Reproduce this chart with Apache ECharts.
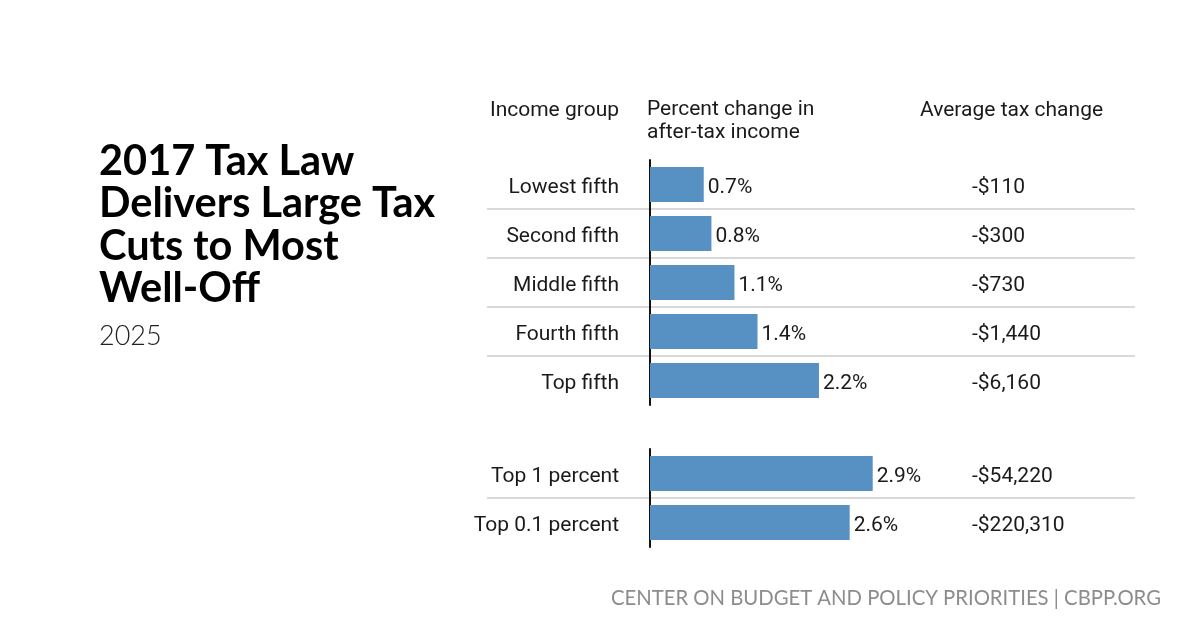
<!DOCTYPE html>
<html>
<head>
<meta charset="utf-8">
<script src="https://cdn.jsdelivr.net/npm/echarts@6/dist/echarts.min.js"></script>
<style>
html,body{margin:0;padding:0;background:#fff;}
#chart{width:1200px;height:630px;}
</style>
</head>
<body>
<div id="chart"></div>
<script>
// ---- Data ----
var groupsMain = ['Lowest fifth', 'Second fifth', 'Middle fifth', 'Fourth fifth', 'Top fifth'];
var pctMain = [0.7, 0.8, 1.1, 1.4, 2.2];
var taxMain = [-110, -300, -730, -1440, -6160];

var groupsTop = ['Top 1 percent', 'Top 0.1 percent'];
var pctTop = [2.9, 2.6];
var taxTop = [-54220, -220310];

var headers = ['Income group', 'Percent change in\nafter-tax income', 'Average tax change'];
var titleText = '2017 Tax Law\nDelivers Large Tax\nCuts to Most\nWell-Off';
var subtitleText = '2025';
var sourceText = 'CENTER ON BUDGET AND POLICY PRIORITIES | CBPP.ORG';

// ---- Styles ----
var BODY_FONT = 'Roboto, "Liberation Sans Narrow", sans-serif';
var TITLE_FONT = 'Lato, "Open Sans", sans-serif';
var BAR_COLOR = '#5790c2';
var TEXT_COLOR = '#1a1a1a';

function fmtTax(v) {
  var s = Math.abs(v).toString().replace(/\B(?=(\d{3})+(?!\d))/g, ',');
  return (v < 0 ? '-$' : '$') + s;
}

var X_MIN = -2.122, X_MAX = 6.315;
var richText = { t: { fontSize: 21, color: TEXT_COLOR, fontFamily: BODY_FONT, padding: [7, 0, 0, 0] } };

function catAxis(grid, cats) {
  return {
    type: 'category', gridIndex: grid, data: cats, inverse: true,
    axisLine: { show: true, onZero: true, lineStyle: { color: '#111', width: 2 } },
    axisTick: { show: false },
    axisLabel: { margin: -132, fontSize: 21, color: TEXT_COLOR, fontFamily: BODY_FONT,
      formatter: function (v) { return '{t|' + v + '}'; }, rich: richText },
    splitLine: { show: true, showMinLine: false, showMaxLine: false,
      lineStyle: { color: '#cccccc', width: 1.5 } }
  };
}
function taxAxis(grid, cats, vals) {
  return {
    type: 'category', gridIndex: grid, data: cats, inverse: true, position: 'right',
    offset: -163,
    axisLine: { show: false, onZero: false },
    axisTick: { show: false },
    splitLine: { show: false },
    axisLabel: { margin: 0, fontSize: 21, color: TEXT_COLOR, fontFamily: BODY_FONT, align: 'left',
      formatter: function (v, i) { return '{t|' + fmtTax(vals[i]) + '}'; }, rich: richText }
  };
}
function barSeries(xi, yi, vals) {
  return {
    type: 'bar', xAxisIndex: xi, yAxisIndex: yi, data: vals, barWidth: 35,
    itemStyle: { color: BAR_COLOR },
    label: { show: true, position: 'right', distance: 4, formatter: '{c}%', offset: [0, 3],
      fontSize: 21, color: TEXT_COLOR, fontFamily: BODY_FONT },
    silent: true
  };
}

var chart = echarts.init(document.getElementById('chart'), null, { renderer: 'canvas' });
chart.setOption({
  animation: false,
  backgroundColor: '#ffffff',
  title: [{
    text: titleText, subtext: subtitleText, left: 94, top: 135, itemGap: 13,
    textStyle: { fontFamily: TITLE_FONT, fontWeight: 'bold', fontSize: 41.5, lineHeight: 42.5, color: '#000' },
    subtextStyle: { fontFamily: TITLE_FONT, fontWeight: 300, fontSize: 27, color: '#222' }
  }],
  grid: [
    { left: 487, width: 648, top: 160, height: 245 },
    { left: 487, width: 648, top: 449, height: 98 }
  ],
  xAxis: [
    { type: 'value', gridIndex: 0, min: X_MIN, max: X_MAX, show: false },
    { type: 'value', gridIndex: 1, min: X_MIN, max: X_MAX, show: false }
  ],
  yAxis: [
    catAxis(0, groupsMain),
    catAxis(1, groupsTop),
    taxAxis(0, groupsMain, taxMain),
    taxAxis(1, groupsTop, taxTop)
  ],
  series: [
    barSeries(0, 0, pctMain),
    barSeries(1, 1, pctTop)
  ],
  graphic: [
    { type: 'text', right: 1200 - 619, top: 100,
      style: { text: headers[0], font: '21px ' + BODY_FONT, fill: TEXT_COLOR, textAlign: 'right' } },
    { type: 'text', left: 647, top: 98,
      style: { text: headers[1], font: '21px ' + BODY_FONT, fill: TEXT_COLOR, lineHeight: 23 } },
    { type: 'text', left: 920, top: 100,
      style: { text: headers[2], font: '21px ' + BODY_FONT, fill: TEXT_COLOR } },
    { type: 'text', right: 39, top: 588,
      style: { text: sourceText, font: '20.3px ' + TITLE_FONT, fill: '#8c8c8c' } }
  ]
});
</script>
</body>
</html>
